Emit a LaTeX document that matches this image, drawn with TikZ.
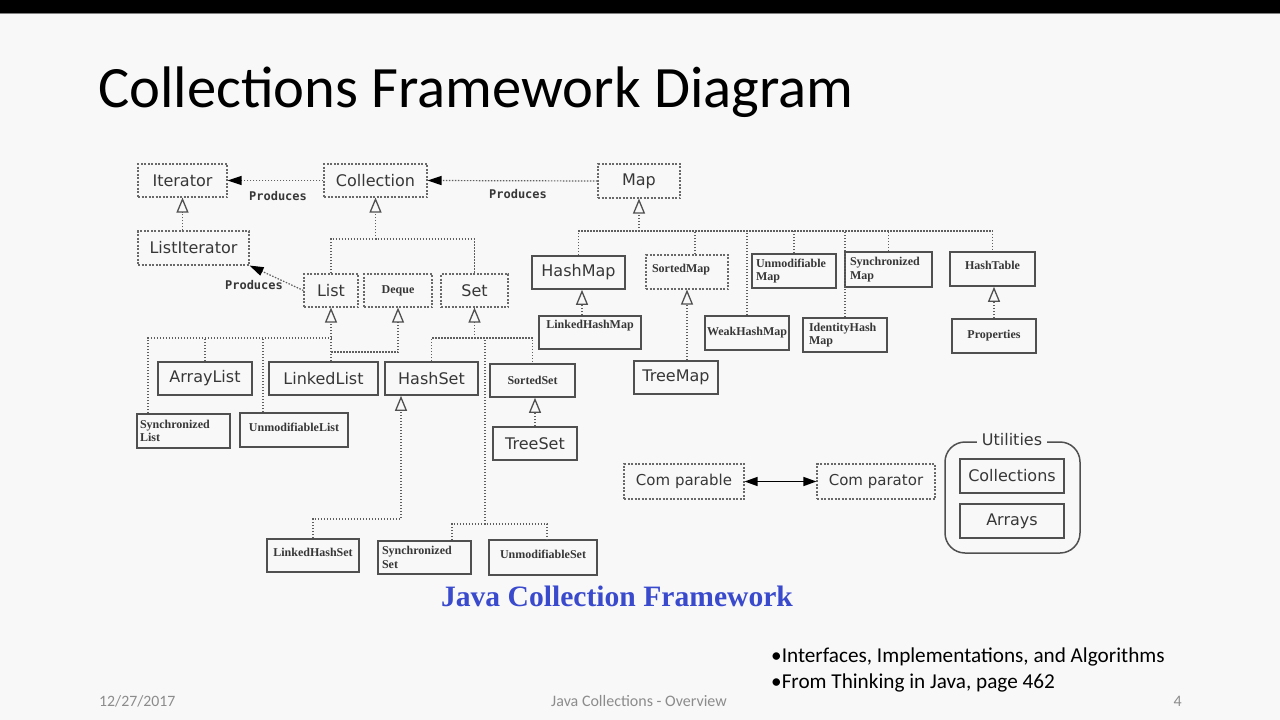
\documentclass[tikz,border=0pt]{standalone}
\usepackage{fontspec}
\setmainfont{Carlito}
\newfontfamily\djs{DejaVu Sans}
\newfontfamily\djm{DejaVu Sans Mono}
\newfontfamily\lser{Liberation Serif}
\usetikzlibrary{arrows.meta}
\definecolor{bgc}{RGB}{248,248,248}
\definecolor{boxc}{RGB}{80,80,80}
\definecolor{dashc}{RGB}{105,105,105}
\definecolor{linec}{RGB}{95,95,95}
\definecolor{txtc}{RGB}{55,55,55}
\definecolor{bluec}{RGB}{58,74,205}
\definecolor{footc}{RGB}{140,140,140}
\newcommand{\mkbox}[7]{%
  \pgfmathsetmacro\mbw{#4-#2}\pgfmathsetmacro\mbh{#5-#3}%
  \pgfmathsetmacro\mbx{(#2+#4)/2}\pgfmathsetmacro\mby{(#3+#5)/2}%
  \node[#6,minimum width=\mbw pt,minimum height=\mbh pt] (#1) at (\mbx,\mby) {#7};}
\tikzset{
  sansf/.style={font=\djs\fontsize{16}{19}\selectfont, text=txtc},
  serf/.style={font=\lser\bfseries\fontsize{12}{13.5}\selectfont, text=txtc},
  dbox/.style={draw=dashc, line width=1.1pt, dash pattern=on 2pt off 1.5pt, inner sep=0pt},
  sbox/.style={draw=boxc, line width=1.6pt, inner sep=0pt},
  lft/.style={align=left, text width=#1},
  dl/.style={draw=linec, line width=1.2pt, dash pattern=on 1.5pt off 1.5pt},
  inh/.style={-{Triangle[open, length=15pt, width=12pt, line width=1.3pt, color=boxc]}},
  prod/.style={-{Triangle[length=14pt, width=9pt, color=black]}},
  cmp/.style={draw=black, line width=1.4pt, {Triangle[length=13pt, width=9pt]}-{Triangle[length=13pt, width=9pt]}},
  prodlab/.style={font=\djm\bfseries\fontsize{12}{14}\selectfont, text=txtc, inner sep=0pt}
}
\begin{document}
\begin{tikzpicture}[x=1pt,y=-1pt]
\useasboundingbox (0,0) rectangle (1280,720);
\fill[bgc] (0,0) rectangle (1280,720);
\fill[black] (0,0) rectangle (1280,13);
\draw[gray, line width=1pt] (0,13.5) -- (1280,13.5);

% title
\node[anchor=base west, inner sep=0pt, font=\fontsize{58.6}{66}\selectfont] (title) at (98,107) {Collections Framework Diagram};

% interfaces row
\mkbox{Iterator}{138}{164}{227}{197}{dbox,sansf}{Iterator}
\mkbox{Collection}{324}{164}{427}{197}{dbox,sansf}{Collection}
\mkbox{Map}{598}{164}{680}{198}{dbox,sansf}{Map}
\mkbox{ListIterator}{138}{231}{249}{265}{dbox,sansf}{ListIterator}
\mkbox{List}{304}{274}{358}{307}{dbox,sansf}{List}
\mkbox{Deque}{364}{274}{432}{307}{dbox,serf}{Deque}
\mkbox{Set}{441}{274}{508}{307}{dbox,sansf}{Set}

% map family
\mkbox{HashMap}{532}{256}{625}{289}{sbox,sansf}{HashMap}
\mkbox{LinkedHashMap}{539}{316}{641}{349}{sbox,serf}{\raisebox{16pt}{LinkedHashMap}}
\mkbox{SortedMap}{646}{255}{728}{289}{dbox,serf,lft=70pt}{\raisebox{8pt}{SortedMap}}
\mkbox{TreeMap}{634}{361}{718}{394}{sbox,sansf}{TreeMap}
\mkbox{WeakHashMap}{705}{316}{789}{350}{sbox,serf}{WeakHashMap}
\mkbox{UnmodifiableMap}{752}{254}{836}{288}{sbox,serf,lft=76pt}{Unmodifiable\\Map}
\mkbox{SynchronizedMap}{845}{252}{932}{287}{sbox,serf,lft=77pt}{Synchronized\\Map}
\mkbox{IdentityHashMap}{803}{318}{887}{352}{sbox,serf,lft=72pt}{IdentityHash\\Map}
\mkbox{HashTable}{950}{252}{1035}{286}{sbox,serf}{\raisebox{8pt}{HashTable}}
\mkbox{Properties}{952}{319}{1036}{353}{sbox,serf}{Properties}

% list / set family
\mkbox{ArrayList}{158}{362}{252}{395}{sbox,sansf}{ArrayList}
\mkbox{LinkedList}{269}{362}{378}{395}{sbox,sansf}{LinkedList}
\mkbox{HashSet}{385}{362}{478}{395}{sbox,sansf}{HashSet}
\mkbox{SortedSet}{490}{364}{575}{397}{sbox,serf}{SortedSet}
\mkbox{TreeSet}{493}{427}{577}{460}{sbox,sansf}{TreeSet}
\mkbox{SynchronizedList}{137}{414}{230}{448}{sbox,serf,lft=87pt}{Synchronized\\List}
\mkbox{UnmodifiableList}{240}{413}{348}{447}{sbox,serf}{\raisebox{5pt}{UnmodifiableList}}
\mkbox{LinkedHashSet}{267}{539}{359}{572}{sbox,serf}{\raisebox{6pt}{LinkedHashSet}}
\mkbox{SynchronizedSet}{378}{541}{471}{574}{sbox,serf,lft=85pt}{Synchronized\\Set}
\mkbox{UnmodifiableSet}{489}{540}{597}{575}{sbox,serf}{\raisebox{6pt}{UnmodifiableSet}}

% comparable / utilities
\mkbox{Comparable}{624}{464}{744}{499}{dbox,sansf,font=\djs\fontsize{15}{18}\selectfont}{Com parable}
\mkbox{Comparator}{817}{464}{935}{499}{dbox,sansf,font=\djs\fontsize{15}{18}\selectfont}{Com parator}
\node[draw=boxc, line width=1.5pt, rounded corners=20pt, minimum width=135pt, minimum height=111pt] (Util) at (1012.5,497.5) {};
\node[fill=bgc, inner xsep=5pt, inner ysep=1pt, sansf] (UtilLabel) at (1012,440) {Utilities};
\mkbox{Collections}{960}{459}{1064}{493}{sbox,sansf,line width=1.3pt}{Collections}
\mkbox{Arrays}{960}{504}{1064}{538}{sbox,sansf,line width=1.3pt}{Arrays}

% produces
\draw[dl,prod] (Collection.west) -- (Iterator.east);
\draw[dl,prod] (Map.west) -- (Collection.east);
\draw[dl,prod] (List.west) -- (ListIterator.south east);
\node[prodlab] (p1) at (278,196) {Produces};
\node[prodlab] (p2) at (518,194) {Produces};
\node[prodlab] (p3) at (254,285) {Produces};

% iterator inheritance
\draw[dl,inh] (ListIterator.north -| Iterator.south) -- (Iterator.south);

% collection tree
\coordinate (cj) at (375.5,239);
\draw[dl,inh] (cj) -- (Collection.south);
\draw[dl] (List.north) |- (cj) -| (Set.north);

% map tree
\coordinate (mj) at (639,231);
\draw[dl,inh] (mj) -- (Map.south);
\draw[dl] (HashMap.north) |- (mj) -| (HashTable.north);
\draw[dl] ([xshift=8pt]SortedMap.north) coordinate (smd) -- (smd |- mj);
\draw[dl] (WeakHashMap.north) -- (WeakHashMap.north |- mj);
\draw[dl] (UnmodifiableMap.north) -- (UnmodifiableMap.north |- mj);
\draw[dl] (IdentityHashMap.north) -- (IdentityHashMap.north |- mj);
\draw[dl] (SynchronizedMap.north) -- (SynchronizedMap.north |- mj);
\draw[dl,inh] ([xshift=-8pt]LinkedHashMap.north) coordinate (lhm) -- (lhm |- HashMap.south);
\draw[dl,inh] (TreeMap.north -| SortedMap.south) -- (SortedMap.south);
\draw[dl,inh] (Properties.north) -- (Properties.north |- HashTable.south);

% list tree
\coordinate (lj) at (331,338);
\coordinate (ld) at (331,352);
\draw[dl,inh] (LinkedList.north -| List.south) -- (List.south);
\draw[dl] ([xshift=-35.5pt]SynchronizedList.north) coordinate (sld) |- (lj);
\draw[dl] (ArrayList.north) -- (ArrayList.north |- lj);
\draw[dl] ([xshift=-31pt]UnmodifiableList.north) coordinate (uld) -- (uld |- lj);
\draw[dl,inh] (ld) -| (Deque.south);

% set tree
\coordinate (sj) at (474.5,338);
\coordinate (ssj) at (485,524);
\coordinate (hsb) at (401,519);
\draw[dl,inh] (sj) -- (Set.south);
\draw[dl] (HashSet.north) |- (sj) -| (SortedSet.north);
\draw[dl] (ssj) -- (ssj |- sj);
\draw[dl] ([xshift=27.5pt]SynchronizedSet.north) coordinate (ssd) |- (ssj) -| ([xshift=4pt]UnmodifiableSet.north);
\draw[dl,inh] (LinkedHashSet.north) |- (hsb) -- (hsb |- HashSet.south);
\draw[dl,inh] (TreeSet.north) -- (TreeSet.north |- SortedSet.south);

% comparable <-> comparator
\draw[cmp] (Comparable.east) -- (Comparator.west);

% captions
\node[anchor=base, inner sep=0pt, text=bluec, font=\lser\bfseries\fontsize{29.6}{34}\selectfont] (jcf) at (617,606) {Java Collection Framework};
\node[anchor=base west, inner sep=0pt, font=\fontsize{21.2}{25}\selectfont] (b1) at (771,662) {•Interfaces, Implementations, and Algorithms};
\node[anchor=base west, inner sep=0pt, font=\fontsize{21.2}{25}\selectfont] (b2) at (771,688) {•From Thinking in Java, page 462};

% footer
\node[anchor=base west, inner sep=0pt, text=footc, font=\fontsize{15.8}{18}\selectfont] (date) at (99,706) {12/27/2017};
\node[anchor=base, inner sep=0pt, text=footc, font=\fontsize{16}{18}\selectfont] (foot) at (639,706) {Java Collections - Overview};
\node[anchor=base east, inner sep=0pt, text=footc, font=\fontsize{16}{18}\selectfont] (pg) at (1182,706) {4};
\end{tikzpicture}
\end{document}
